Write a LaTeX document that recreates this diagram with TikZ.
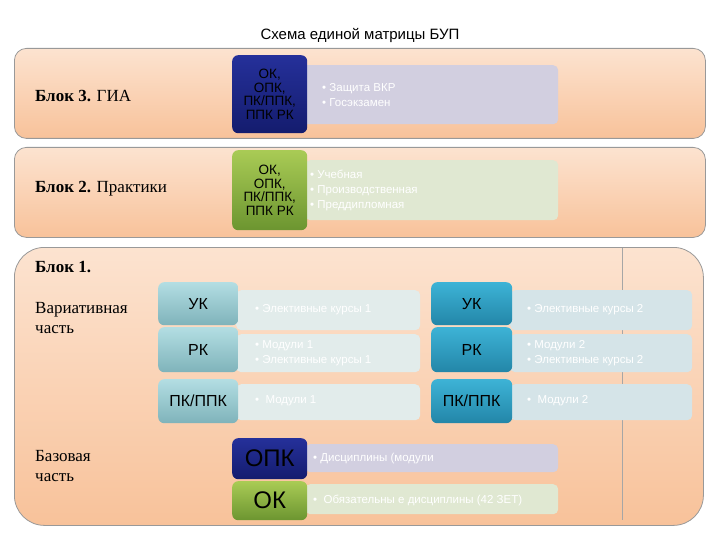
\documentclass[tikz,border=0pt]{standalone}
\usepackage{fontspec}
\setmainfont{Liberation Serif}
\setsansfont{Liberation Sans}
\definecolor{peachT}{HTML}{FCE3D0}
\definecolor{peachB}{HTML}{F8C29A}
\definecolor{dbT}{HTML}{25309A}
\definecolor{dbB}{HTML}{141C6E}
\definecolor{gT}{HTML}{A9CB55}
\definecolor{gB}{HTML}{6C9530}
\definecolor{ltT}{HTML}{B3DEE3}
\definecolor{ltB}{HTML}{7FB3BA}
\definecolor{dtT}{HTML}{3DB3D6}
\definecolor{dtB}{HTML}{2386A8}
\definecolor{lav}{HTML}{D2CFE0}
\definecolor{lgr}{HTML}{E0E8D2}
\definecolor{pt1}{HTML}{E2ECEB}
\definecolor{pt2}{HTML}{D5E4E8}
\begin{document}
\begin{tikzpicture}[x=1pt,y=-1pt,
 blk/.style={draw=gray!80,line width=0.8pt,rounded corners=12pt,top color=peachT,bottom color=peachB,anchor=north west,inner sep=0pt},
 lbl/.style={font=\fontsize{17}{20}\selectfont,anchor=west,align=left,inner sep=0pt},
 key/.style={rounded corners=6pt,anchor=north west,inner sep=0pt,font=\sffamily\fontsize{16}{17}\selectfont,align=center},
 dblue/.style={key,top color=dbT,bottom color=dbB,text=black},
 grn/.style={key,top color=gT,bottom color=gB,text=black},
 lteal/.style={key,top color=ltT,bottom color=ltB,text=black},
 dteal/.style={key,top color=dtT,bottom color=dtB,text=black},
 pale/.style={rounded corners=5pt,anchor=north west,inner sep=0pt,fill=#1},
 wt/.style={anchor=west,text=white,font=\sffamily\fontsize{11.5}{15}\selectfont,align=left,inner sep=0pt}]
\useasboundingbox (0,0) rectangle (720,540);
\node[font=\sffamily\fontsize{15}{17}\selectfont] (title) at (360,35) {Схема единой матрицы БУП};
% blocks
\node[blk,minimum width=691pt,minimum height=90pt] (b3) at (14,48) {};
\node[blk,minimum width=691pt,minimum height=90pt] (b2) at (14,147) {};
\node[blk,rounded corners=30pt,minimum width=689pt,minimum height=278pt] (b1) at (14,247) {};
\coordinate (vt) at (622,248); \coordinate (vb) at (622,520);
\draw[gray!70,line width=0.8pt] (vt) -- (vb);
\node[lbl] (l3) at (35,96) {\textbf{Блок 3.} ГИА};
\node[lbl] (l2) at (35,189) {\textbf{Блок 2.} Практики};
\node[lbl] (l1) at (35,267) {\textbf{Блок 1.}};
\node[lbl,anchor=north west] (lv) at (35,302) {Вариативная\\часть};
\node[lbl,anchor=north west] (lb) at (35,450) {Базовая\\часть};
% block 3
\node[pale=lav,minimum width=258pt,minimum height=59pt] (p3) at (300,65) {};
\node[dblue,minimum width=75pt,minimum height=78pt,font=\sffamily\fontsize{13.5}{13.5}\selectfont] (k3) at (232,55) {ОК,\\ОПК,\\ПК/ППК,\\ППК РК};
\node[wt] (t3) at (322,95) {• Защита ВКР\\• Госэкзамен};
% block 2
\node[pale=lgr,minimum width=253pt,minimum height=60pt] (p2) at (305,160) {};
\node[grn,minimum width=75pt,minimum height=80pt,font=\sffamily\fontsize{13.5}{13.5}\selectfont] (k2) at (232,150) {ОК,\\ОПК,\\ПК/ППК,\\ППК РК};
\node[wt] (t2) at (310,190) {• Учебная\\• Производственная\\• Преддипломная};
% block 1 left
\node[pale=pt1,minimum width=184pt,minimum height=40pt] (pa1) at (236,290) {};
\node[pale=pt1,minimum width=184pt,minimum height=38pt] (pa2) at (236,334) {};
\node[pale=pt1,minimum width=184pt,minimum height=36pt] (pa3) at (236,384) {};
\node[lteal,minimum width=80pt,minimum height=43pt] (ka1) at (158,282) {УК};
\node[lteal,minimum width=80pt,minimum height=45pt] (ka2) at (158,327) {РК};
\node[lteal,minimum width=80pt,minimum height=44pt] (ka3) at (158,379) {ПК/ППК};
\node[wt] (ta1) at (255,310) {• Элективные курсы 1};
\node[wt] (ta2) at (255,353) {• Модули 1\\• Элективные курсы 1};
\node[wt] (ta3) at (255,401) {• \ Модули 1};
% block 1 right
\node[pale=pt2,minimum width=182pt,minimum height=40pt] (pb1) at (510,290) {};
\node[pale=pt2,minimum width=182pt,minimum height=38pt] (pb2) at (510,334) {};
\node[pale=pt2,minimum width=182pt,minimum height=36pt] (pb3) at (510,384) {};
\node[dteal,minimum width=81pt,minimum height=43pt] (kb1) at (431,282) {УК};
\node[dteal,minimum width=81pt,minimum height=45pt] (kb2) at (431,327) {РК};
\node[dteal,minimum width=81pt,minimum height=44pt] (kb3) at (431,379) {ПК/ППК};
\node[wt] (tb1) at (527,310) {• Элективные курсы 2};
\node[wt] (tb2) at (527,353) {• Модули 2\\• Элективные курсы 2};
\node[wt] (tb3) at (527,401) {• \ Модули 2};
% base part
\node[pale=lav,minimum width=253pt,minimum height=28pt] (pc1) at (305,444) {};
\node[pale=lgr,minimum width=253pt,minimum height=30pt] (pc2) at (305,484) {};
\node[dblue,minimum width=75pt,minimum height=41pt,font=\sffamily\fontsize{24}{26}\selectfont] (kc1) at (232,438) {ОПК};
\node[grn,minimum width=75pt,minimum height=39pt,font=\sffamily\fontsize{24}{26}\selectfont] (kc2) at (232,481) {ОК};
\node[wt] (tc1) at (313,459) {• Дисциплины (модули};
\node[wt] (tc2) at (313,500) {• \ Обязательны е дисциплины (42 ЗЕТ)};
\end{tikzpicture}
\end{document}
